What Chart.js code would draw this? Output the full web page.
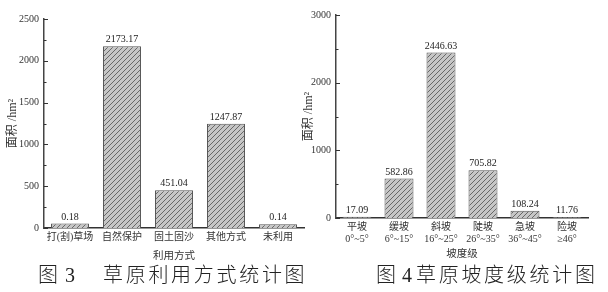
<!DOCTYPE html>
<html><head><meta charset="utf-8">
<script src="https://cdn.jsdelivr.net/npm/chart.js@4/dist/chart.umd.min.js"></script>
<style>
html,body{margin:0;padding:0;background:#fff;width:608px;height:292px;overflow:hidden;}
.wrap{position:absolute;}
.cap{position:absolute;font-family:'Noto Sans CJK SC',sans-serif;font-weight:300;font-size:20px;color:#222;white-space:nowrap;line-height:20px;}
.num{font-family:'Liberation Serif',serif;font-weight:400;}
.sp{letter-spacing:2.7px;}
</style></head>
<body>
<div class="wrap" style="left:0;top:0;width:306px;height:266px"><canvas id="c1" width="306" height="266"></canvas></div>
<div class="wrap" style="left:300px;top:0;width:308px;height:266px"><canvas id="c2" width="308" height="266"></canvas></div>
<div class="cap" style="left:38px;top:264px">图</div>
<div class="cap num" style="left:65px;top:265px">3</div>
<div class="cap sp" style="left:103px;top:264px">草原利用方式统计图</div>
<div class="cap" style="left:376px;top:264px">图</div>
<div class="cap num" style="left:402px;top:265px">4</div>
<div class="cap sp" style="left:416px;top:264px">草原坡度级统计图</div>
<script>
// ---- data ----
const useCategories = ['打(割)草场', '自然保护', '固土固沙', '其他方式', '未利用'];
const useValues = [55, 2173.17, 451.04, 1247.87, 45];
const useLabels = ['0.18', '2173.17', '451.04', '1247.87', '0.14'];
const useTicks = [0, 500, 1000, 1500, 2000, 2500];

const slopeCategories = [['平坡', '0°~5°'], ['缓坡', '6°~15°'], ['斜坡', '16°~25°'], ['陡坡', '26°~35°'], ['急坡', '36°~45°'], ['险坡', '≥46°']];
const slopeValues = [17.09, 582.86, 2446.63, 705.82, 108.24, 11.76];
const slopeLabels = ['17.09', '582.86', '2446.63', '705.82', '108.24', '11.76'];
const slopeTicks = [0, 1000, 2000, 3000];

// ---- styling ----
const FONT = "'Liberation Serif', 'Noto Sans CJK SC', serif";
function hatch() {
  const c = document.createElement('canvas'); c.width = 5; c.height = 5;
  const g = c.getContext('2d');
  g.fillStyle = '#c6c6c6'; g.fillRect(0, 0, 5, 5);
  g.strokeStyle = '#5e5e5e'; g.lineWidth = 0.9;
  g.beginPath();
  g.moveTo(-1, 6); g.lineTo(6, -1);
  g.moveTo(-1, 1); g.lineTo(1, -1);
  g.moveTo(4, 6); g.lineTo(6, 4);
  g.stroke();
  return g.createPattern(c, 'repeat');
}

const innerTicks = {
  id: 'innerTicks',
  afterDatasetsDraw(chart, args, opts) {
    const ctx = chart.ctx, y = chart.scales.y, a = chart.chartArea;
    ctx.save();
    ctx.strokeStyle = '#333'; ctx.lineWidth = 1;
    y.ticks.forEach(t => {
      const py = Math.round(y.getPixelForValue(t.value)) + 0.5;
      const major = opts.major.includes(t.value);
      ctx.beginPath(); ctx.moveTo(a.left, py); ctx.lineTo(a.left + (major ? 4 : 2.5), py); ctx.stroke();
    });
    const meta = chart.getDatasetMeta(0);
    ctx.fillStyle = '#222'; ctx.font = '10px ' + FONT; ctx.textAlign = 'center'; ctx.textBaseline = 'bottom';
    meta.data.forEach((bar, i) => {
      ctx.fillText(opts.labels[i], bar.x, bar.y - 1.5);
    });
    ctx.restore();
  }
};

function makeChart(id, cats, vals, labels, majors, max, step, barPct, yW, xH, padTop, padRight, padBottom, xTitle, xTitlePad, yTitlePad) {
  return new Chart(document.getElementById(id), {
    type: 'bar',
    data: { labels: cats, datasets: [{ data: vals, backgroundColor: hatch(), borderColor: '#555', borderWidth: 1, barPercentage: barPct, categoryPercentage: 1 }] },
    options: {
      responsive: false, animation: false, events: [],
      layout: { padding: { top: padTop, right: padRight, left: 0, bottom: padBottom } },
      plugins: { legend: { display: false }, tooltip: { enabled: false }, innerTicks: { major: majors, labels: labels } },
      scales: {
        x: {
          grid: { display: false, drawTicks: false },
          border: { color: '#333', width: 1.5 },
          ticks: { color: '#333', font: { family: FONT, size: 10 }, padding: 3, maxRotation: 0, autoSkip: false },
          title: { display: true, text: xTitle, color: '#333', font: { family: FONT, size: 10.5 }, padding: { top: xTitlePad, bottom: 0 } },
          afterFit: s => { s.height = xH; }
        },
        y: {
          min: 0, max: max,
          grid: { display: false, drawTicks: false },
          border: { color: '#444', width: 1.5 },
          ticks: { stepSize: step, color: '#333', font: { family: FONT, size: 10 }, padding: 5,
            callback: v => majors.includes(v) ? String(v) : '' },
          title: { display: true, text: '面积 /hm²', color: '#333', font: { family: FONT, size: 12 }, padding: { top: yTitlePad, bottom: 0 } },
          afterFit: s => { s.width = yW; }
        }
      }
    },
    plugins: [innerTicks]
  });
}

makeChart('c1', useCategories, useValues, useLabels, useTicks, 2500, 250, 0.73, 44, 35, 19, 2, 3, '利用方式', 6, 6);
makeChart('c2', slopeCategories, slopeValues, slopeLabels, slopeTicks, 3000, 500, 0.69, 36, 43, 15, 20, 5, '坡度级', 2, 2);
</script>
</body></html>
